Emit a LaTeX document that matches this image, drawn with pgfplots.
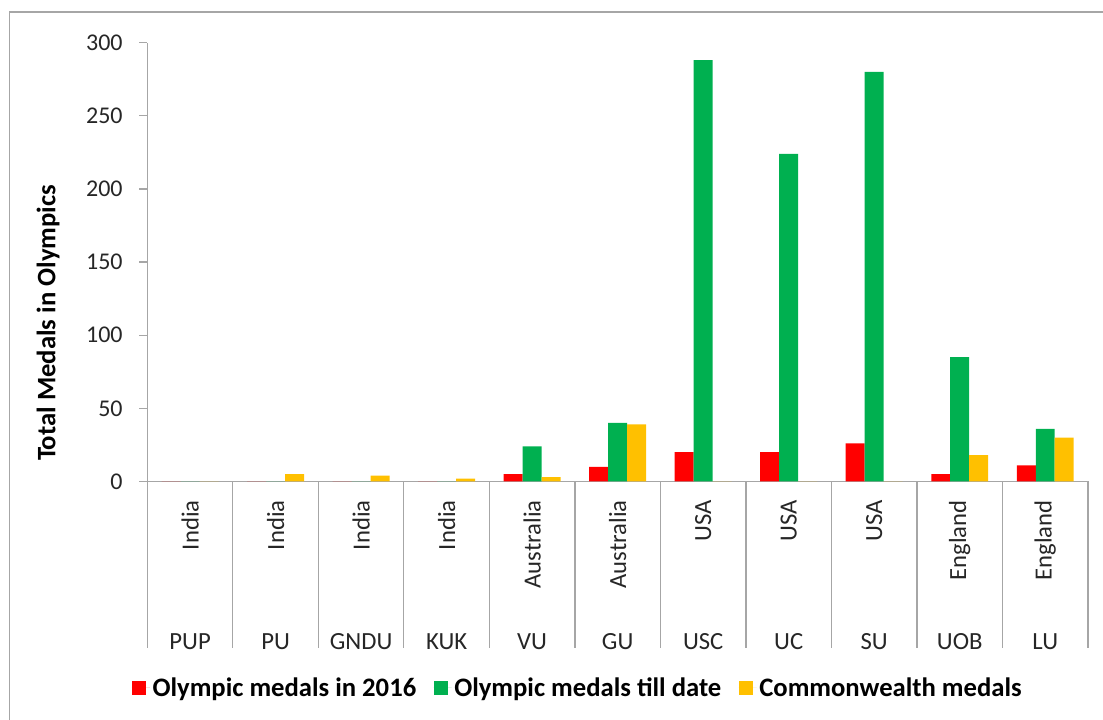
\documentclass[border=0pt]{standalone}
\usepackage{graphicx}
\usepackage{pgfplots}
\pgfplotsset{compat=1.18}
\usepackage{fontspec}
\setmainfont{Carlito}
\definecolor{cred}{RGB}{255,0,0}
\definecolor{cgreen}{RGB}{0,176,80}
\definecolor{cyellow}{RGB}{255,192,0}
\definecolor{axgray}{RGB}{166,166,166}
\newcommand\cl[2]{\rotatebox{90}{\makebox[90pt][r]{#1}}\\[2pt]#2}
\begin{document}
\begin{tikzpicture}
\useasboundingbox (0,0) rectangle (827.25pt,540pt);
\draw[axgray, line width=1pt] (7.1pt,0) -- (7.1pt,531pt) -- (827.25pt,531pt);
\node[rotate=90, font=\bfseries\fontsize{20}{22}\selectfont] at (36pt,297.75pt) {Total Medals in Olympics};
\begin{axis}[
  at={(110.5pt,178.9pt)}, anchor=south west,
  scale only axis, width=705.5pt, height=329.1pt,
  xmin=-0.5, xmax=10.5, ymin=0, ymax=300,
  clip=false,
  axis x line=bottom, axis y line=left,
  axis line style={-, axgray, line width=0.9pt},
  tick align=outside, major tick length=6pt,
  ytick={0,50,...,300},
  ytick style={axgray, line width=0.9pt},
  yticklabel style={font=\fontsize{18}{20}\selectfont, text=black!85, xshift=-9pt},
  /pgf/number format/assume math mode=true,
  xtick={0,...,10},
  xticklabels={{\cl{India}{PUP}},{\cl{India}{PU}},{\cl{India}{GNDU}},{\cl{India}{KUK}},{\cl{Australia}{VU}},{\cl{Australia}{GU}},{\cl{USA}{USC}},{\cl{USA}{UC}},{\cl{USA}{SU}},{\cl{England}{UOB}},{\cl{England}{LU}}},
  xtick style={draw=none},
  xticklabel style={font=\fontsize{18.5}{20}\selectfont, text=black!85, anchor=north, align=center, inner sep=0pt, yshift=-8pt},
  legend columns=3,
  legend style={at={(axis description cs:0.458,-0.4706)}, anchor=center, draw=none,
    font=\bfseries\fontsize{20}{22}\selectfont,
    /tikz/every even column/.append style={column sep=11pt}},
  legend image code/.code={\fill[#1] (0pt,-5.2pt) rectangle (10.5pt,5.2pt); \path (0pt,0pt) -- (13.5pt,0pt);},
]
\addplot[ybar, bar width=0.222, bar shift=-0.222, fill=cred, draw=none]
  coordinates {(0,0) (1,0) (2,0) (3,0) (4,5) (5,10) (6,20) (7,20) (8,26) (9,5) (10,11)};
\addlegendentry{Olympic medals in 2016}
\addplot[ybar, bar width=0.222, bar shift=0, fill=cgreen, draw=none]
  coordinates {(0,0) (1,0) (2,0) (3,0) (4,24) (5,40) (6,288) (7,224) (8,280) (9,85) (10,36)};
\addlegendentry{Olympic medals till date}
\addplot[ybar, bar width=0.222, bar shift=0.222, fill=cyellow, draw=none]
  coordinates {(0,0) (1,5) (2,4) (3,2) (4,3) (5,39) (6,0) (7,0) (8,0) (9,18) (10,30)};
\addlegendentry{Commonwealth medals}
\pgfplotsinvokeforeach{-0.5,0.5,...,10.5}{\draw[axgray, line width=0.9pt] (axis cs:#1,0) -- ++(0pt,-125.1pt);}
\end{axis}
\end{tikzpicture}
\end{document}
